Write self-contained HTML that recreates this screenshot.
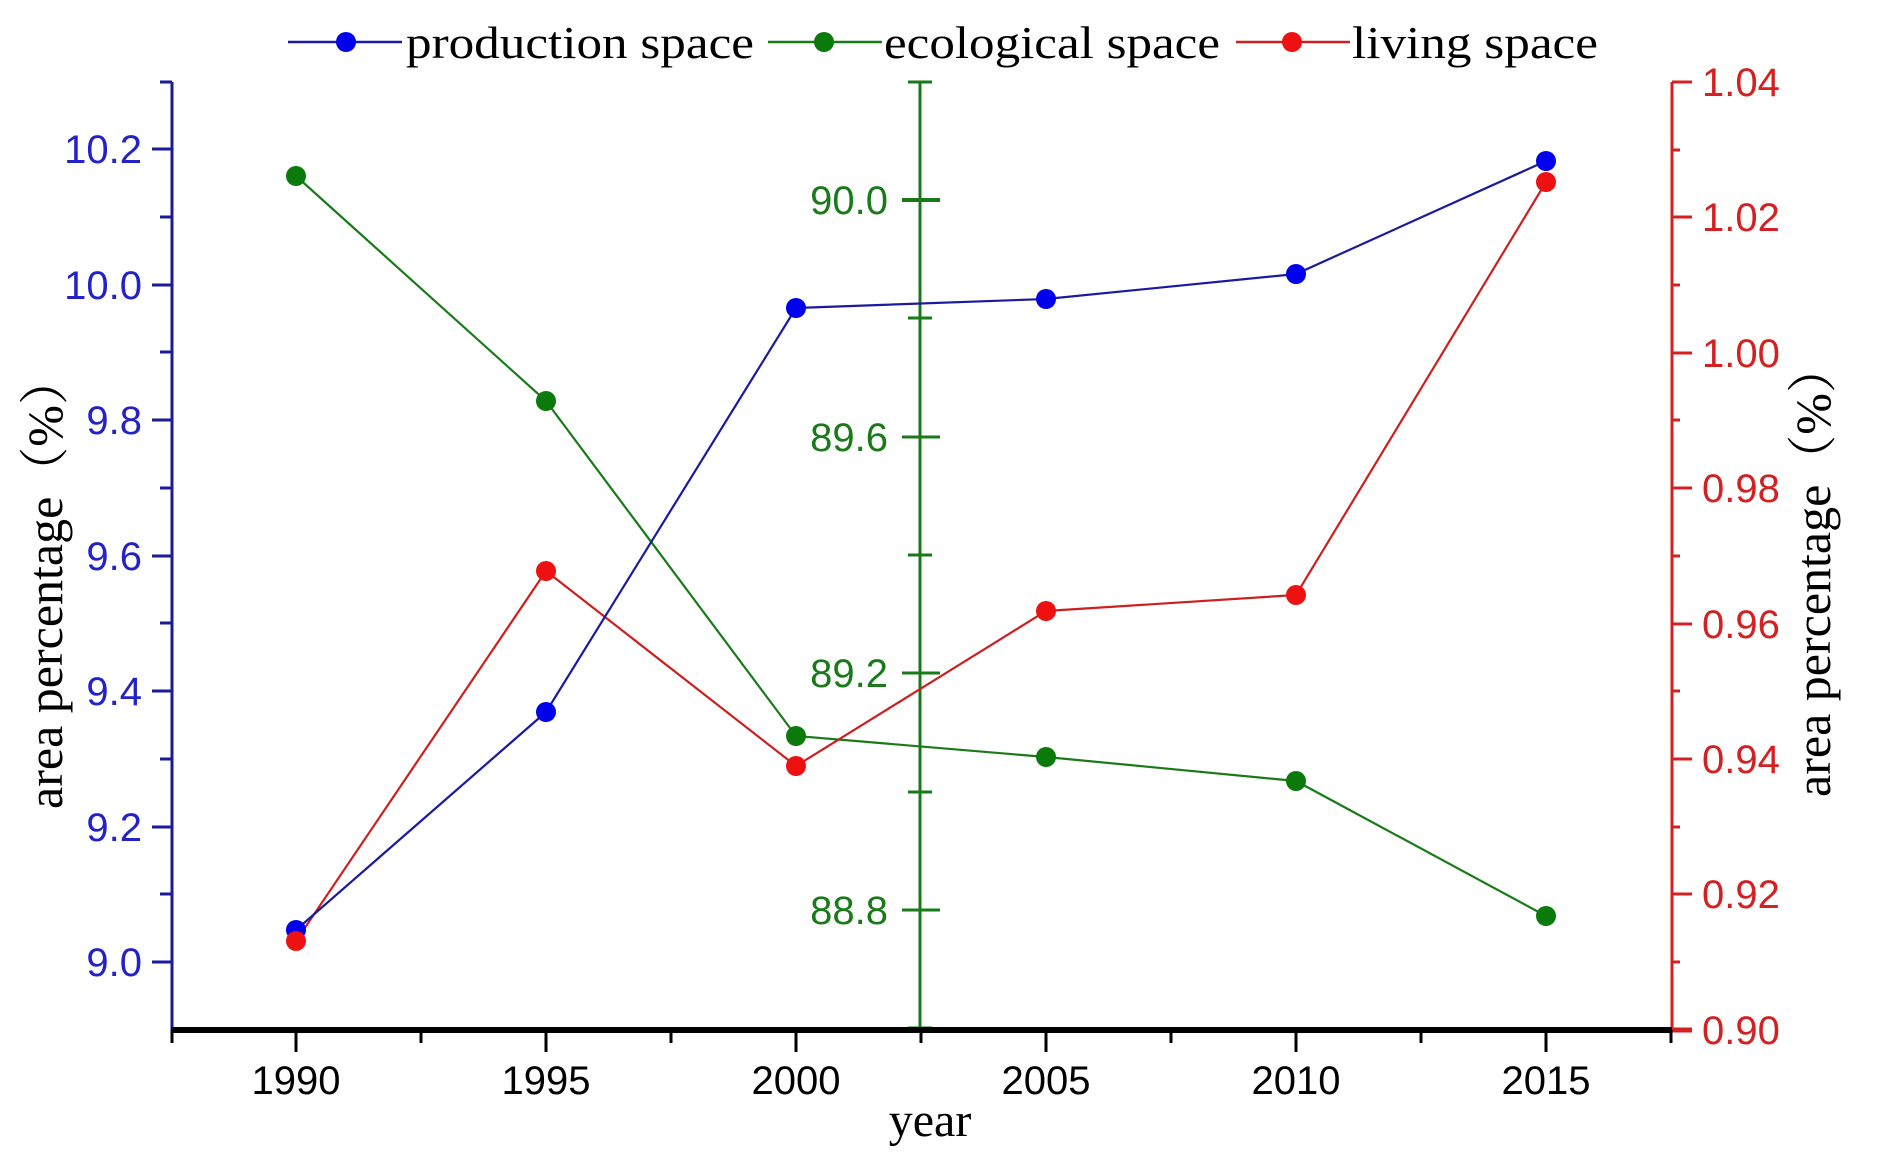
<!DOCTYPE html>
<html><head><meta charset="utf-8"><style>body{margin:0;background:#fff}svg{display:block}</style></head><body>
<svg width="1880" height="1176" viewBox="0 0 1880 1176" xmlns="http://www.w3.org/2000/svg" font-family="Liberation Sans, sans-serif">
<rect width="1880" height="1176" fill="#fff"/>
<g font-family="Liberation Serif, serif" font-size="46" fill="#000">
<line x1="288" y1="42" x2="402" y2="42" stroke="#1a1aa0" stroke-width="2.5"/><circle cx="346" cy="42" r="10" fill="#0000ee"/>
<text x="406" y="58" textLength="348" lengthAdjust="spacingAndGlyphs">production space</text>
<line x1="768" y1="42" x2="882" y2="42" stroke="#1a7a1a" stroke-width="2.5"/><circle cx="824" cy="42" r="10" fill="#0a7a0a"/>
<text x="884" y="58" textLength="336" lengthAdjust="spacingAndGlyphs">ecological space</text>
<line x1="1236" y1="42" x2="1350" y2="42" stroke="#cc2020" stroke-width="2.5"/><circle cx="1292" cy="42" r="10" fill="#ee1111"/>
<text x="1352" y="58" textLength="246" lengthAdjust="spacingAndGlyphs">living space</text>
</g>
<g stroke="#1a1a9a" stroke-width="3">
<line x1="172" y1="82" x2="172" y2="1030"/>
<line x1="152" y1="149" x2="172" y2="149"/><line x1="152" y1="285" x2="172" y2="285"/><line x1="152" y1="420" x2="172" y2="420"/><line x1="152" y1="556" x2="172" y2="556"/><line x1="152" y1="691" x2="172" y2="691"/><line x1="152" y1="827" x2="172" y2="827"/><line x1="152" y1="962" x2="172" y2="962"/>
<line x1="160" y1="82" x2="172" y2="82"/><line x1="160" y1="217" x2="172" y2="217"/><line x1="160" y1="352" x2="172" y2="352"/><line x1="160" y1="488" x2="172" y2="488"/><line x1="160" y1="623" x2="172" y2="623"/><line x1="160" y1="759" x2="172" y2="759"/><line x1="160" y1="894" x2="172" y2="894"/>
</g>
<g fill="#2222c8" font-size="40" text-anchor="end">
<text x="142" y="163">10.2</text><text x="142" y="299">10.0</text><text x="142" y="434">9.8</text><text x="142" y="570">9.6</text><text x="142" y="705">9.4</text><text x="142" y="841">9.2</text><text x="142" y="976">9.0</text>
</g>
<text transform="translate(62,582) rotate(-90)" text-anchor="middle" font-family="Liberation Serif, 'Noto Serif CJK SC', serif" font-size="50" fill="#000">area percentage（%）</text>
<g stroke="#1a7a1a" stroke-width="3">
<line x1="920" y1="82" x2="920" y2="1030"/>
<line x1="902" y1="200" x2="940" y2="200" stroke-width="4"/><line x1="902" y1="437" x2="940" y2="437"/><line x1="902" y1="673" x2="940" y2="673"/><line x1="902" y1="910" x2="940" y2="910"/>
<line x1="908" y1="82" x2="932" y2="82"/><line x1="908" y1="318" x2="932" y2="318"/><line x1="908" y1="555" x2="932" y2="555"/><line x1="908" y1="792" x2="932" y2="792"/><line x1="908" y1="1028" x2="932" y2="1028"/>
</g>
<g fill="#1a7a1a" font-size="40" text-anchor="end">
<text x="888" y="214">90.0</text><text x="888" y="451">89.6</text><text x="888" y="687">89.2</text><text x="888" y="924">88.8</text>
</g>
<g stroke="#d42020" stroke-width="3">
<line x1="1672" y1="82" x2="1672" y2="1030"/>
<line x1="1672" y1="82" x2="1692" y2="82"/><line x1="1672" y1="217" x2="1692" y2="217"/><line x1="1672" y1="353" x2="1692" y2="353"/><line x1="1672" y1="488" x2="1692" y2="488"/><line x1="1672" y1="624" x2="1692" y2="624"/><line x1="1672" y1="759" x2="1692" y2="759"/><line x1="1672" y1="894" x2="1692" y2="894"/><line x1="1672" y1="1030" x2="1692" y2="1030" stroke-width="5"/>
<line x1="1672" y1="150" x2="1680" y2="150"/><line x1="1672" y1="285" x2="1680" y2="285"/><line x1="1672" y1="420" x2="1680" y2="420"/><line x1="1672" y1="556" x2="1680" y2="556"/><line x1="1672" y1="691" x2="1680" y2="691"/><line x1="1672" y1="827" x2="1680" y2="827"/><line x1="1672" y1="962" x2="1680" y2="962"/>
</g>
<g fill="#d42020" font-size="40">
<text x="1702" y="96">1.04</text><text x="1702" y="231">1.02</text><text x="1702" y="367">1.00</text><text x="1702" y="502">0.98</text><text x="1702" y="638">0.96</text><text x="1702" y="773">0.94</text><text x="1702" y="908">0.92</text><text x="1702" y="1044">0.90</text>
</g>
<text transform="translate(1830,570) rotate(-90)" text-anchor="middle" font-family="Liberation Serif, 'Noto Serif CJK SC', serif" font-size="50" fill="#000">area percentage（%）</text>
<g stroke="#000" stroke-width="3">
<line x1="171" y1="1030" x2="1672" y2="1030" stroke-width="6"/>
<line x1="296" y1="1030" x2="296" y2="1052"/><line x1="546" y1="1030" x2="546" y2="1052"/><line x1="796" y1="1030" x2="796" y2="1052"/><line x1="1046" y1="1030" x2="1046" y2="1052"/><line x1="1296" y1="1030" x2="1296" y2="1052"/><line x1="1546" y1="1030" x2="1546" y2="1052"/>
<line x1="172" y1="1030" x2="172" y2="1043"/><line x1="421" y1="1030" x2="421" y2="1043"/><line x1="671" y1="1030" x2="671" y2="1043"/><line x1="1171" y1="1030" x2="1171" y2="1043"/><line x1="1421" y1="1030" x2="1421" y2="1043"/><line x1="1671" y1="1030" x2="1671" y2="1043"/><line x1="921" y1="1030" x2="921" y2="1043"/>
</g>
<g fill="#000" font-size="40" text-anchor="middle">
<text x="296" y="1094">1990</text><text x="546" y="1094">1995</text><text x="796" y="1094">2000</text><text x="1046" y="1094">2005</text><text x="1296" y="1094">2010</text><text x="1546" y="1094">2015</text>
</g>
<text x="930" y="1136" text-anchor="middle" font-family="Liberation Serif, serif" font-size="48" fill="#000">year</text>
<polyline points="296,176 546,401 796,736 1046,757 1296,781 1546,916" fill="none" stroke="#1a7a1a" stroke-width="2.2"/>
<polyline points="296,941 546,571 796,766 1046,611 1296,595 1546,182" fill="none" stroke="#cc2020" stroke-width="2.2"/>
<polyline points="296,930 546,712 796,308 1046,299 1296,274 1546,161" fill="none" stroke="#1a1aa0" stroke-width="2.2"/>
<g fill="#0a7a0a"><circle cx="296" cy="176" r="10"/><circle cx="546" cy="401" r="10"/><circle cx="796" cy="736" r="10"/><circle cx="1046" cy="757" r="10"/><circle cx="1296" cy="781" r="10"/><circle cx="1546" cy="916" r="10"/></g>
<g fill="#0000ee"><circle cx="296" cy="930" r="10"/><circle cx="546" cy="712" r="10"/><circle cx="796" cy="308" r="10"/><circle cx="1046" cy="299" r="10"/><circle cx="1296" cy="274" r="10"/><circle cx="1546" cy="161" r="10"/></g>
<g fill="#ee1111"><circle cx="296" cy="941" r="10"/><circle cx="546" cy="571" r="10"/><circle cx="796" cy="766" r="10"/><circle cx="1046" cy="611" r="10"/><circle cx="1296" cy="595" r="10"/><circle cx="1546" cy="182" r="10"/></g>
</svg>
</body></html>
